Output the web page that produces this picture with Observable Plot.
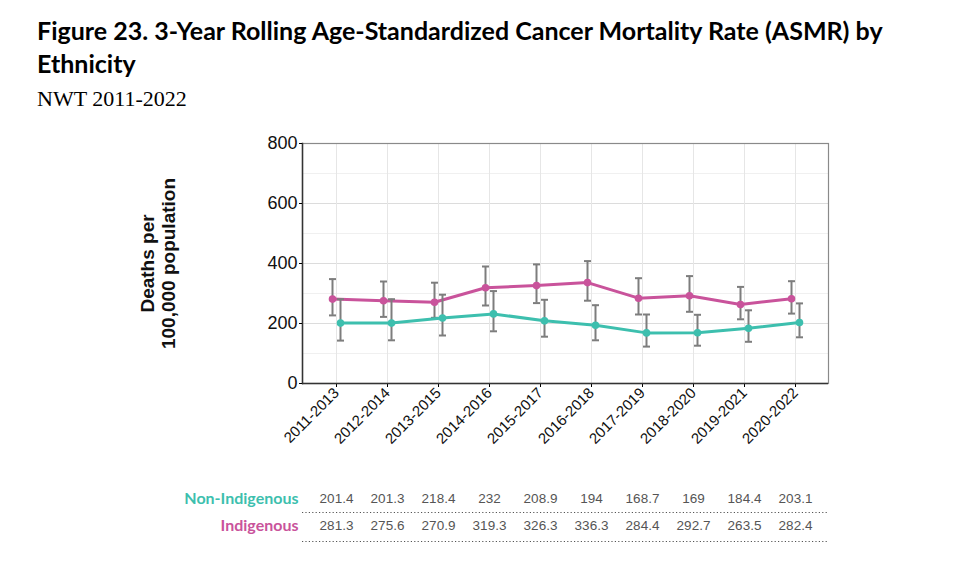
<!DOCTYPE html>
<html>
<head>
<meta charset="utf-8">
<script src="https://cdn.jsdelivr.net/npm/d3@7"></script>
<script src="https://cdn.jsdelivr.net/npm/@observablehq/plot@0.6"></script>
<style>
  html, body { margin: 0; padding: 0; background: #fff; }
  #wrap { position: relative; width: 959px; height: 566px; overflow: hidden; }
  #title { position: absolute; left: 37px; top: 14px; font-family: Lato, "Open Sans", sans-serif; font-weight: 700; font-size: 25px; line-height: 33px; color: #000; white-space: nowrap; }
  #subtitle { position: absolute; left: 37px; top: 87px; font-family: "Liberation Serif", serif; font-size: 22px; line-height: 24px; color: #000; white-space: nowrap; }
  #chart { position: absolute; left: 0; top: 110px; }
</style>
</head>
<body>
<div id="wrap">
  <div id="title">Figure 23. 3-Year Rolling Age-Standardized Cancer Mortality Rate (ASMR) by<br>Ethnicity</div>
  <div id="subtitle">NWT 2011-2022</div>
  <div id="chart"></div>
</div>
<script>
const periods = ["2011-2013","2012-2014","2013-2015","2014-2016","2015-2017","2016-2018","2017-2019","2018-2020","2019-2021","2020-2022"];
const nonIndigenous = [201.4, 201.3, 218.4, 232, 208.9, 194, 168.7, 169, 184.4, 203.1];
const nonIndigenousLow = [143, 144, 160, 174, 156, 144, 123, 126, 139, 154];
const nonIndigenousHigh = [281, 281, 296, 308, 279, 261, 230, 229, 244, 267];
const indigenous = [281.3, 275.6, 270.9, 319.3, 326.3, 336.3, 284.4, 292.7, 263.5, 282.4];
const indigenousLow = [227, 222, 219, 260, 268, 276, 230, 239, 214, 233];
const indigenousHigh = [348, 340, 336, 390, 397, 408, 351, 358, 322, 341];
const yTicks = [0, 200, 400, 600, 800];
const yMinor = [100, 300, 500, 700];

const teal = "#3dbfae";
const pink = "#c9539b";

const nonRows = periods.map((p, i) => ({period: p, value: nonIndigenous[i], lo: nonIndigenousLow[i], hi: nonIndigenousHigh[i]}));
const indRows = periods.map((p, i) => ({period: p, value: indigenous[i], lo: indigenousLow[i], hi: indigenousHigh[i]}));

const capSymbol = { draw(ctx, size) { ctx.moveTo(-3.5, 0); ctx.lineTo(3.5, 0); } };

function series(rows, color, off) {
  return [
    Plot.ruleX(rows, {x: "period", y1: "lo", y2: "hi", dx: off, stroke: "#7d7d7d", strokeWidth: 2}),
    Plot.dot(rows, {x: "period", y: "lo", dx: off, symbol: capSymbol, r: 3, stroke: "#7d7d7d", strokeWidth: 2, fill: "none"}),
    Plot.dot(rows, {x: "period", y: "hi", dx: off, symbol: capSymbol, r: 3, stroke: "#7d7d7d", strokeWidth: 2, fill: "none"}),
    Plot.line(rows, {x: "period", y: "value", dx: off, stroke: color, strokeWidth: 3}),
    Plot.dot(rows, {x: "period", y: "value", dx: off, r: 3.8, fill: color, stroke: "none"})
  ];
}

const chart = Plot.plot({
  width: 959,
  height: 456,
  marginLeft: 302,
  marginRight: 131,
  marginTop: 33,
  marginBottom: 183,
  style: {fontFamily: "Arial, 'Liberation Sans', sans-serif", background: "transparent", overflow: "visible"},
  x: {type: "point", domain: periods, padding: 0.6, label: null},
  y: {domain: [0, 800], label: null},
  marks: [
    Plot.ruleY(yMinor, {stroke: "#f0f0f0", strokeWidth: 1}),
    Plot.ruleY(yTicks, {stroke: "#dcdcdc", strokeWidth: 1}),
    Plot.ruleX(periods, {x: d => d, stroke: "#e6e6e6", strokeWidth: 1}),
    Plot.frame({stroke: "#8a8a8a", strokeWidth: 1.2}),
    Plot.frame({anchor: "left", stroke: "#333", strokeWidth: 1.5}),
    Plot.axisY({ticks: yTicks, tickSize: 3, tickPadding: 2, fontSize: 18, fill: "#111", label: null}),
    Plot.axisX({tickRotate: -45, tickSize: 4, tickPadding: 3, fontSize: 15, fill: "#111", label: null}),
    Plot.ruleY([0], {stroke: "#333", strokeWidth: 1.5}),
    Plot.text(["Deaths per\n100,000 population"], {frameAnchor: "left", dx: -144.5, rotate: -90, fontSize: 19, fontWeight: "bold", lineHeight: 1.12, textAnchor: "middle", lineAnchor: "middle", fill: "#111"}),
    ...series(indRows, pink, -4),
    ...series(nonRows, teal, 4),
    // data table below the chart
    Plot.text(nonRows, {x: "period", frameAnchor: "bottom", dy: 115, text: d => String(d.value), fontSize: 13.5, fill: "#555", lineAnchor: "middle"}),
    Plot.text(indRows, {x: "period", frameAnchor: "bottom", dy: 142, text: d => String(d.value), fontSize: 13.5, fill: "#555", lineAnchor: "middle"}),
    Plot.text(["Non-Indigenous"], {frameAnchor: "bottom-left", dx: -4, dy: 115, textAnchor: "end", lineAnchor: "middle", fontSize: 16, fontWeight: "bold", fontFamily: "Lato, 'Open Sans', sans-serif", fill: teal}),
    Plot.text(["Indigenous"], {frameAnchor: "bottom-left", dx: -4, dy: 142, textAnchor: "end", lineAnchor: "middle", fontSize: 16, fontWeight: "bold", fontFamily: "Lato, 'Open Sans', sans-serif", fill: pink}),
    Plot.ruleY([0], {dy: 129, stroke: "#555", strokeWidth: 1, strokeDasharray: "1.2,2.2"}),
    Plot.ruleY([0], {dy: 158, stroke: "#555", strokeWidth: 1, strokeDasharray: "1.2,2.2"})
  ]
});
document.getElementById("chart").appendChild(chart);
</script>
</body>
</html>
